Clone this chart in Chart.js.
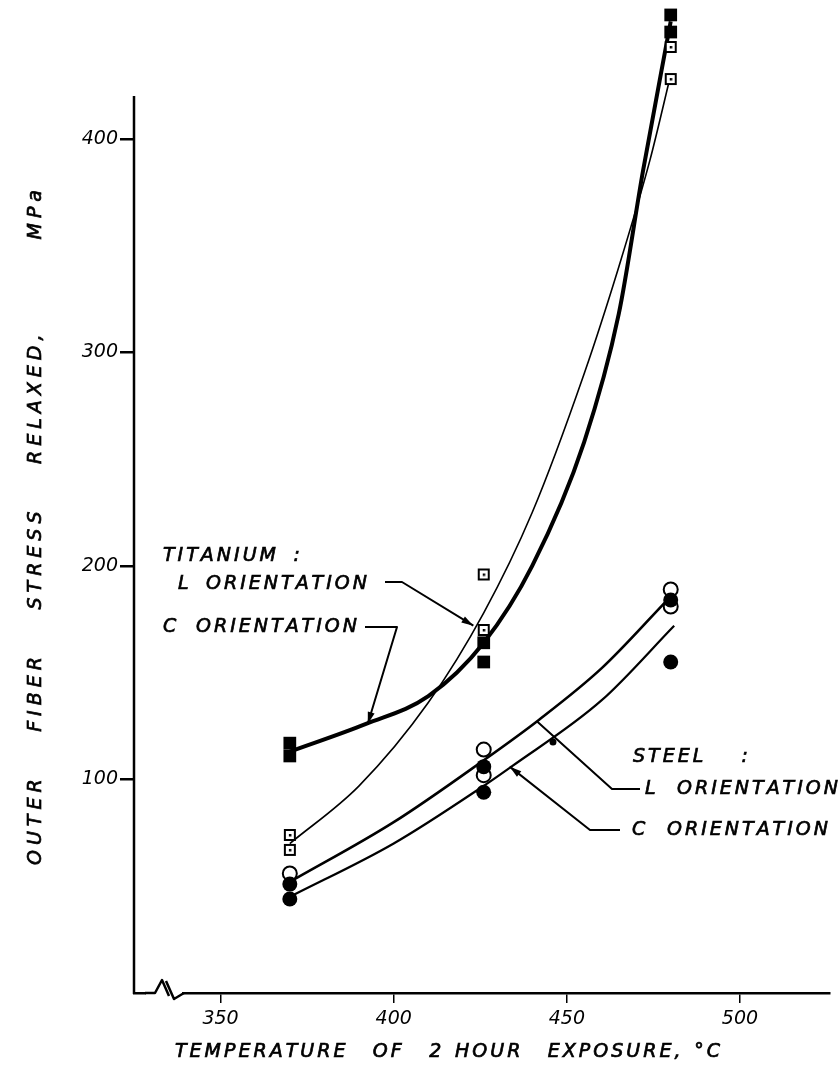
<!DOCTYPE html>
<html>
<head>
<meta charset="utf-8">
<script src="https://cdn.jsdelivr.net/npm/chart.js@4/dist/chart.umd.min.js"></script>
<style>
  body { margin: 0; background: #fff; }
  #wrap { width: 840px; height: 1070px; }
</style>
</head>
<body>
<div id="wrap"><canvas id="myChart" width="840" height="1070"></canvas></div>
<script>
// axis ticks
const xTicks = [350, 400, 450, 500];
const yTicks = [100, 200, 300, 400];

// titanium, L orientation (open squares) and C orientation (filled squares)
const tiLTemp = [370, 370, 426, 426, 480, 480];
const tiLStress = [74, 67, 196, 170, 443, 428];
const tiCTemp = [370, 370, 426, 426, 480, 480];
const tiCStress = [117, 111, 164, 155, 458, 450];

// steel, L orientation (open circles) and C orientation (filled circles)
const stLTemp = [370, 426, 426, 480, 480];
const stLStress = [56, 114, 102, 189, 181];
const stCTemp = [370, 370, 426, 426, 480, 480];
const stCStress = [51, 44, 106, 94, 184, 155];

// faired curves
const tiLFitTemp = [370, 390, 410, 426, 440, 455, 465, 474, 480];
const tiLFitStress = [70, 97, 136, 178, 225, 290, 340, 390, 430];
const tiCFitTemp = [370, 392, 410, 426, 440, 455, 465, 472, 480];
const tiCFitStress = [113, 126, 139, 164, 200, 258, 318, 385, 455];
const stLFitTemp = [370, 400, 426, 442, 460, 479];
const stLFitStress = [52, 80, 109, 128, 152, 184];
const stCFitTemp = [370, 400, 426, 434, 460, 481];
const stCFitStress = [45, 70, 97, 106, 137, 172];

const FONT = 'italic 19px "DejaVu Sans"';
const AXIS_TOP = 420;   // drawn y axis stops here, points may go above

function pairs(xs, ys) {
    return xs.map(function(x, i) { return { x: x, y: ys[i] }; });
}

// open square with a dot in the middle
function dotSquare() {
    const c = document.createElement('canvas');
    c.width = 14; c.height = 14;
    const g = c.getContext('2d');
    g.fillStyle = '#fff';
    g.fillRect(1, 1, 12, 12);
    g.strokeStyle = '#000';
    g.lineWidth = 2;
    g.strokeRect(2, 2, 10, 10);
    g.fillStyle = '#000';
    g.fillRect(6, 6, 2.5, 2.5);
    return c;
}

// lettering: fixed gap between letters, word gaps stretched to fill the width
function spaced(ctx, text, x, y, width, gap) {
    const chars = Array.from(text);
    let used = 0, nSpace = 0;
    chars.forEach(function(c, i) {
        if (c === ' ') { nSpace++; return; }
        used += ctx.measureText(c).width;
        if (i < chars.length - 1 && chars[i + 1] !== ' ') used += gap;
    });
    const sp = nSpace ? (width - used) / nSpace : 0;
    let cx = x;
    chars.forEach(function(c, i) {
        if (c === ' ') { cx += sp; return; }
        ctx.fillText(c, cx, y);
        ctx.strokeText(c, cx, y);
        cx += ctx.measureText(c).width;
        if (i < chars.length - 1 && chars[i + 1] !== ' ') cx += gap;
    });
}

function arrowHead(ctx, fx, fy, tx, ty) {
    const a = Math.atan2(ty - fy, tx - fx);
    ctx.beginPath();
    ctx.moveTo(tx, ty);
    ctx.lineTo(tx - 12 * Math.cos(a) + 3.5 * Math.sin(a), ty - 12 * Math.sin(a) - 3.5 * Math.cos(a));
    ctx.lineTo(tx - 12 * Math.cos(a) - 3.5 * Math.sin(a), ty - 12 * Math.sin(a) + 3.5 * Math.cos(a));
    ctx.closePath();
    ctx.fill();
}

const notes = {
    id: 'notes',
    beforeDatasetsDraw: function(chart) {
        // y axis line, only up to 420
        const ctx = chart.ctx;
        const ys = chart.scales.y;
        const left = chart.chartArea.left;
        ctx.save();
        ctx.strokeStyle = '#000';
        ctx.lineWidth = 2.5;
        ctx.beginPath();
        ctx.moveTo(left, ys.getPixelForValue(0) + 1);
        ctx.lineTo(left, ys.getPixelForValue(AXIS_TOP));
        ctx.stroke();
        ctx.restore();
    },
    afterDraw: function(chart) {
        const ctx = chart.ctx;
        const xs = chart.scales.x, ys = chart.scales.y;
        const px = function(v) { return xs.getPixelForValue(v); };
        const py = function(v) { return ys.getPixelForValue(v); };
        const bottom = chart.chartArea.bottom;

        ctx.save();
        ctx.fillStyle = '#000';
        ctx.strokeStyle = '#000';
        ctx.lineWidth = 0.7;
        ctx.font = FONT;
        ctx.textBaseline = 'middle';
        ctx.textAlign = 'left';

        // axis titles
        spaced(ctx, 'TEMPERATURE  OF  2 HOUR  EXPOSURE, \u00B0C', 175, 1052, 545, 3);
        ctx.save();
        ctx.translate(36, 528);
        ctx.rotate(-Math.PI / 2);
        spaced(ctx, 'OUTER FIBER STRESS RELAXED,  MPa', -337, 0, 675, 5);
        ctx.restore();

        // titanium labels
        spaced(ctx, 'TITANIUM :', 163, 556, 137, 3);
        spaced(ctx, 'L ORIENTATION', 178, 584, 189, 3);
        spaced(ctx, 'C ORIENTATION', 163, 627, 194, 3);
        // steel labels
        spaced(ctx, 'STEEL :', 633, 757, 115, 3);
        spaced(ctx, 'L ORIENTATION', 645, 789, 193, 3);
        spaced(ctx, 'C ORIENTATION', 632, 830, 196, 3);

        ctx.lineWidth = 2;
        ctx.lineJoin = 'round';
        // titanium L leader
        let tx = px(423), ty = py(172);
        ctx.beginPath();
        ctx.moveTo(385, 582); ctx.lineTo(402, 582); ctx.lineTo(tx, ty);
        ctx.stroke();
        arrowHead(ctx, 402, 582, tx, ty);
        // titanium C leader
        tx = px(392.5); ty = py(126);
        ctx.beginPath();
        ctx.moveTo(365, 627); ctx.lineTo(397, 627); ctx.lineTo(tx, ty);
        ctx.stroke();
        arrowHead(ctx, 397, 627, tx, ty);
        // steel L leader, crossing the C curve
        tx = px(441.5); ty = py(127);
        ctx.beginPath();
        ctx.moveTo(640, 789); ctx.lineTo(612, 789); ctx.lineTo(tx, ty);
        ctx.stroke();
        ctx.beginPath();
        ctx.arc(px(446), py(117.5), 3.5, 0, Math.PI * 2);
        ctx.fill();
        // steel C leader
        tx = px(433.5); ty = py(106);
        ctx.beginPath();
        ctx.moveTo(620, 830); ctx.lineTo(590, 830); ctx.lineTo(tx, ty);
        ctx.stroke();
        arrowHead(ctx, 590, 830, tx, ty);

        // break in the x axis
        ctx.fillStyle = '#fff';
        ctx.fillRect(146, bottom - 4, 36, 8);
        ctx.lineWidth = 2.5;
        ctx.beginPath();
        ctx.moveTo(145, bottom); ctx.lineTo(155, bottom); ctx.lineTo(162, bottom - 13); ctx.lineTo(169, bottom + 3);
        ctx.moveTo(166, bottom - 12); ctx.lineTo(174, bottom + 6); ctx.lineTo(184, bottom);
        ctx.stroke();
        ctx.restore();
    }
};

const ctx = document.getElementById('myChart').getContext('2d');
const myChart = new Chart(ctx, {
    type: 'scatter',
    data: {
        datasets: [
            {
                label: 'Titanium C',
                data: pairs(tiCTemp, tiCStress),
                pointStyle: 'rect',
                pointRadius: 9,
                backgroundColor: '#000',
                borderColor: '#000',
                borderWidth: 0
            },
            {
                label: 'Titanium L',
                data: pairs(tiLTemp, tiLStress),
                pointStyle: dotSquare()
            },
            {
                label: 'Steel C',
                data: pairs(stCTemp, stCStress),
                pointStyle: 'circle',
                pointRadius: 7.5,
                backgroundColor: '#000',
                borderColor: '#000',
                borderWidth: 0
            },
            {
                label: 'Steel L',
                data: pairs(stLTemp, stLStress),
                pointStyle: 'circle',
                pointRadius: 7,
                backgroundColor: '#fff',
                borderColor: '#000',
                borderWidth: 2
            },
            {
                label: 'Titanium C fit',
                data: pairs(tiCFitTemp, tiCFitStress),
                showLine: true,
                pointRadius: 0,
                borderColor: '#000',
                borderWidth: 4,
                cubicInterpolationMode: 'monotone'
            },
            {
                label: 'Titanium L fit',
                data: pairs(tiLFitTemp, tiLFitStress),
                showLine: true,
                pointRadius: 0,
                borderColor: '#000',
                borderWidth: 1.6,
                cubicInterpolationMode: 'monotone'
            },
            {
                label: 'Steel L fit',
                data: pairs(stLFitTemp, stLFitStress),
                showLine: true,
                pointRadius: 0,
                borderColor: '#000',
                borderWidth: 2.6,
                cubicInterpolationMode: 'monotone'
            },
            {
                label: 'Steel C fit',
                data: pairs(stCFitTemp, stCFitStress),
                showLine: true,
                pointRadius: 0,
                borderColor: '#000',
                borderWidth: 2.2,
                cubicInterpolationMode: 'monotone'
            }
        ]
    },
    options: {
        responsive: false,
        animation: false,
        devicePixelRatio: 1,
        layout: { autoPadding: false, padding: { top: 0, right: 10, left: 0, bottom: 0 } },
        plugins: {
            legend: { display: false },
            tooltip: { enabled: false }
        },
        scales: {
            x: {
                type: 'linear',
                min: 325,
                max: 526,
                afterBuildTicks: function(s) { s.ticks = xTicks.map(function(v) { return { value: v }; }); },
                afterFit: function(s) { s.height = 77; },
                grid: { drawOnChartArea: false, drawTicks: true, tickLength: 10, color: '#000', lineWidth: 1.5 },
                border: { display: true, color: '#000', width: 2.5 },
                ticks: { color: '#000', font: { family: 'DejaVu Sans', size: 19, style: 'italic' }, padding: 5, maxRotation: 0 }
            },
            y: {
                type: 'linear',
                min: 0,
                max: 465,
                afterBuildTicks: function(s) { s.ticks = yTicks.map(function(v) { return { value: v }; }); },
                afterFit: function(s) { s.width = 134; s.paddingTop = 0; s.paddingBottom = 0; },
                grid: { drawOnChartArea: false, drawTicks: true, tickLength: 14, color: '#000', lineWidth: 2.5 },
                border: { display: false },
                ticks: { color: '#000', font: { family: 'DejaVu Sans', size: 19, style: 'italic' }, padding: 2 }
            }
        }
    },
    plugins: [notes]
});
</script>
</body>
</html>
